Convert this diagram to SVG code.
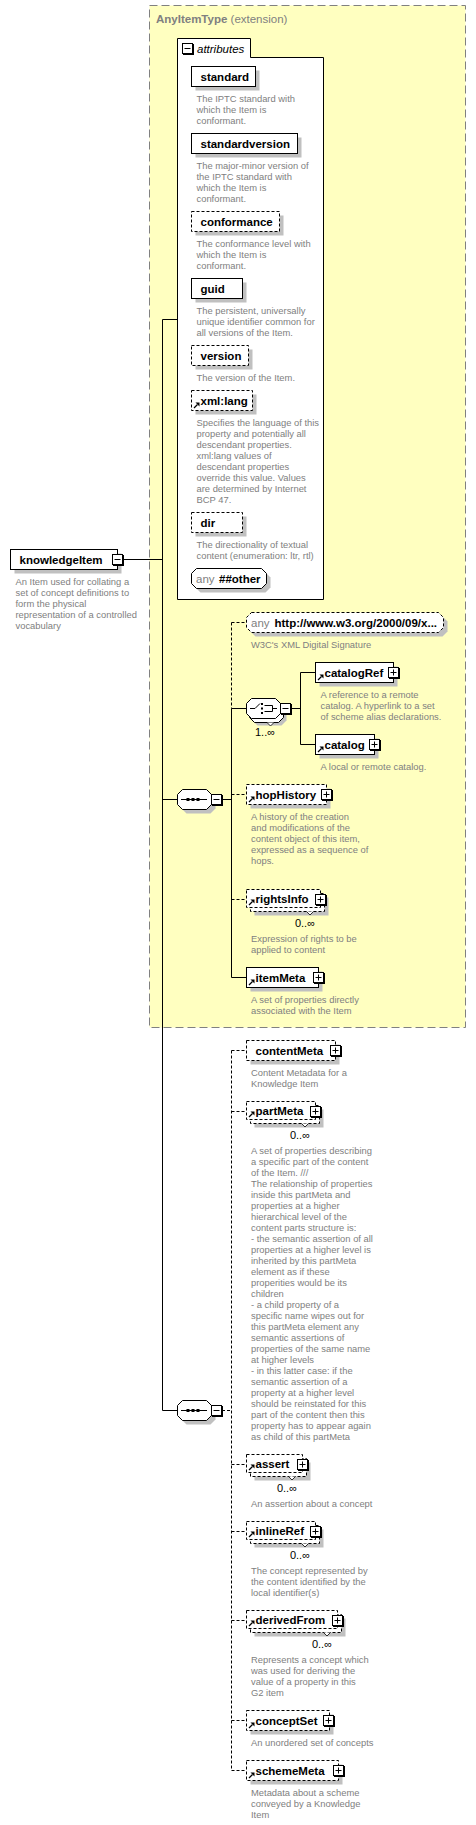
<svg xmlns="http://www.w3.org/2000/svg" xmlns:xlink="http://www.w3.org/1999/xlink" width="476" height="1825" viewBox="0 0 476 1825">
<style>
.n{fill:#fff;stroke:#000;stroke-width:1}
.nd{fill:#fff;stroke:#000;stroke-width:1;stroke-dasharray:3,2}
.sh{fill:#c0c0c0}
.t{font-family:"Liberation Sans",Arial,sans-serif;font-weight:bold;font-size:11.5px;fill:#000}
.d{font-family:"Liberation Sans",Arial,sans-serif;font-size:9.4px;fill:#808080}
.g{font-family:"Liberation Sans",Arial,sans-serif;font-size:11.5px;fill:#808080}
.m{font-family:"Liberation Sans",Arial,sans-serif;font-size:11px;fill:#000}
.c{fill:none;stroke:#000;stroke-width:1}
.cd{fill:none;stroke:#000;stroke-width:1;stroke-dasharray:3,2}
.v{fill:#fff;stroke:#000;stroke-width:0.8}
</style>
<defs>
<g id="plus"><rect x="0.5" y="0.5" width="11" height="11" fill="#000"/><rect x="0" y="0" width="10" height="10" fill="#fff" stroke="#000"/><path d="M2,5H8M5,2V8" stroke="#000" fill="none"/></g>
<g id="minus"><rect x="0.5" y="0.5" width="11" height="11" fill="#000"/><rect x="0" y="0" width="10" height="10" fill="#fff" stroke="#000"/><path d="M2,5H8" stroke="#000" fill="none"/></g>
<g id="ra"><path d="M0.5,-0.5L4,-4" stroke="#000" stroke-width="1.3" fill="none"/><path d="M2,-6H6V-2Z" fill="#000"/></g>
</defs>

<rect x="149.5" y="5.5" width="316" height="1022" fill="#FFFFC0" stroke="#808080" stroke-dasharray="8,4"/>
<text class="g" x="156" y="23"><tspan font-weight="bold">AnyItemType</tspan> (extension)</text>

<g id="connectors">
<path class="c" d="M122.5,559.5H162.5M162.5,319.5V1410.5M162.5,319.5H177.5M162.5,799.5H177.5M162.5,1410.5H177.5"/>
<path class="c" d="M222,799.5H231.5M231.5,708.5V977.5M231.5,708.5H246.5M231.5,977.5H246.5"/>
<path class="cd" d="M231.5,622.5V708.5M231.5,622.5H246.5M231.5,794.5H246.5M231.5,899.5H246.5"/>
<path class="c" d="M291,708.5H300.5M300.5,672.5V744.5M300.5,672.5H315.5M300.5,744.5H315.5"/>
<path class="cd" d="M222,1410.5H231.5M231.5,1050.5V1770.5M231.5,1050.5H246.5M231.5,1111.5H246.5M231.5,1464.5H246.5M231.5,1531.5H246.5M231.5,1620.5H246.5M231.5,1720.5H246.5M231.5,1770.5H246.5"/>
</g>

<g id="knowledgeItem">
<rect class="sh" x="14.5" y="553.5" width="107" height="20"/>
<rect class="n" x="10.5" y="549.5" width="107" height="20"/>
<text class="t" x="19.5" y="563.5">knowledgeItem</text>
<use href="#minus" x="112.5" y="554.5"/>
<text class="d"><tspan x="15.5" y="585">An Item used for collating a</tspan><tspan x="15.5" y="596">set of concept definitions to</tspan><tspan x="15.5" y="607">form the physical</tspan><tspan x="15.5" y="618">representation of a controlled</tspan><tspan x="15.5" y="629">vocabulary</tspan></text>
</g>

<g id="attributes">
<path class="n" d="M177.5,599.5V38.5H250.5V57.5H323.5V599.5Z"/>
<use href="#minus" x="182.5" y="43.5"/>
<text x="197" y="52.5" font-family="Liberation Sans, Arial, sans-serif" font-size="11.5" font-style="italic" fill="#000">attributes</text>
</g>

<g id="standard">
<rect class="sh" x="195.5" y="70.5" width="64" height="20"/>
<rect class="n" x="191.5" y="66.5" width="64" height="20"/>
<text class="t" x="200.5" y="80.5">standard</text>
<text class="d"><tspan x="196.5" y="102">The IPTC standard with</tspan><tspan x="196.5" y="113">which the Item is</tspan><tspan x="196.5" y="124">conformant.</tspan></text>
</g>

<g id="standardversion">
<rect class="sh" x="195.5" y="137.5" width="106" height="20"/>
<rect class="n" x="191.5" y="133.5" width="106" height="20"/>
<text class="t" x="200.5" y="147.5">standardversion</text>
<text class="d"><tspan x="196.5" y="169">The major-minor version of</tspan><tspan x="196.5" y="180">the IPTC standard with</tspan><tspan x="196.5" y="191">which the Item is</tspan><tspan x="196.5" y="202">conformant.</tspan></text>
</g>

<g id="conformance">
<rect class="sh" x="195.5" y="215.5" width="88" height="20"/>
<rect class="nd" x="191.5" y="211.5" width="88" height="20"/>
<text class="t" x="200.5" y="225.5">conformance</text>
<text class="d"><tspan x="196.5" y="247">The conformance level with</tspan><tspan x="196.5" y="258">which the Item is</tspan><tspan x="196.5" y="269">conformant.</tspan></text>
</g>

<g id="guid">
<rect class="sh" x="195.5" y="282.5" width="51" height="20"/>
<rect class="n" x="191.5" y="278.5" width="51" height="20"/>
<text class="t" x="200.5" y="292.5">guid</text>
<text class="d"><tspan x="196.5" y="314">The persistent, universally</tspan><tspan x="196.5" y="325">unique identifier common for</tspan><tspan x="196.5" y="336">all versions of the Item.</tspan></text>
</g>

<g id="version">
<rect class="sh" x="195.5" y="349.5" width="57" height="20"/>
<rect class="nd" x="191.5" y="345.5" width="57" height="20"/>
<text class="t" x="200.5" y="359.5">version</text>
<text class="d"><tspan x="196.5" y="381">The version of the Item.</tspan></text>
</g>

<g id="xml-lang">
<rect class="sh" x="195.5" y="394.5" width="61" height="20"/>
<rect class="nd" x="191.5" y="390.5" width="61" height="20"/>
<use href="#ra" x="193.5" y="408.5"/>
<text class="t" x="200.5" y="404.5">xml:lang</text>
<text class="d"><tspan x="196.5" y="426">Specifies the language of this</tspan><tspan x="196.5" y="437">property and potentially all</tspan><tspan x="196.5" y="448">descendant properties.</tspan><tspan x="196.5" y="459">xml:lang values of</tspan><tspan x="196.5" y="470">descendant properties</tspan><tspan x="196.5" y="481">override this value. Values</tspan><tspan x="196.5" y="492">are determined by Internet</tspan><tspan x="196.5" y="503">BCP 47.</tspan></text>
</g>

<g id="dir">
<rect class="sh" x="195.5" y="516.5" width="51" height="20"/>
<rect class="nd" x="191.5" y="512.5" width="51" height="20"/>
<text class="t" x="200.5" y="526.5">dir</text>
<text class="d"><tspan x="196.5" y="548">The directionality of textual</tspan><tspan x="196.5" y="559">content (enumeration: ltr, rtl)</tspan></text>
</g>

<g id="any-other">
<path class="sh" d="M200.5,572.5H265.5L270.5,577.5V587.5L265.5,592.5H200.5L195.5,587.5V577.5Z"/>
<path class="n" d="M196.5,568.5H261.5L266.5,573.5V583.5L261.5,588.5H196.5L191.5,583.5V573.5Z"/>
<text class="g" x="196" y="582.5">any</text>
<text class="t" x="219" y="582.5">##other</text>
</g>

<g id="any-xmldsig">
<path class="sh" d="M255.5,616.5H442.5L447.5,621.5V631.5L442.5,636.5H255.5L250.5,631.5V621.5Z"/>
<path class="nd" d="M251.5,612.5H438.5L443.5,617.5V627.5L438.5,632.5H251.5L246.5,627.5V617.5Z"/>
<text class="g" x="251" y="626.5">any</text>
<text class="t" x="274.5" y="626.5">http://www.w3.org/2000/09/x...</text>
<text class="d"><tspan x="251" y="648">W3C's XML Digital Signature</tspan></text>
</g>

<g id="choice">
<path class="sh" d="M257.5,705.5H281.5L286.5,710.5V720.5L281.5,725.5H257.5L252.5,720.5V710.5Z"/>
<path class="n" d="M254.5,702.5H278.5L283.5,707.5V717.5L278.5,722.5H254.5L249.5,717.5V707.5Z"/>
<path class="v" d="M267,722.5L270.5,726L274,722.5"/>
<path class="n" d="M251.5,698.5H275.5L280.5,703.5V713.5L275.5,718.5H251.5L246.5,713.5V703.5Z"/>
<path d="M250,708.5H255L260,703.5M264.5,705.5H272.5V711.5H264.5M272.5,708.5H277" fill="none" stroke="#000"/>
<rect x="261" y="703" width="2" height="2" fill="#000"/><rect x="261" y="707.5" width="2" height="2" fill="#000"/><rect x="261" y="712" width="2" height="2" fill="#000"/>
<use href="#minus" x="280.5" y="703.5"/>
<text class="m" x="255" y="736">1..∞</text>
</g>

<g id="catalogRef">
<rect class="sh" x="319.5" y="666.5" width="78" height="20"/>
<rect class="n" x="315.5" y="662.5" width="78" height="20"/>
<use href="#ra" x="317.5" y="680.5"/>
<text class="t" x="324.5" y="676.5">catalogRef</text>
<use href="#plus" x="388.5" y="667.5"/>
<text class="d"><tspan x="320.5" y="698">A reference to a remote</tspan><tspan x="320.5" y="709">catalog. A hyperlink to a set</tspan><tspan x="320.5" y="720">of scheme alias declarations.</tspan></text>
</g>

<g id="catalog">
<rect class="sh" x="319.5" y="738.5" width="59" height="20"/>
<rect class="n" x="315.5" y="734.5" width="59" height="20"/>
<use href="#ra" x="317.5" y="752.5"/>
<text class="t" x="324.5" y="748.5">catalog</text>
<use href="#plus" x="369.5" y="739.5"/>
<text class="d"><tspan x="320.5" y="770">A local or remote catalog.</tspan></text>
</g>

<g id="sequence1">
<path class="sh" d="M186.5,793.5H210.5L215.5,798.5V808.5L210.5,813.5H186.5L181.5,808.5V798.5Z"/>
<path class="n" d="M182.5,789.5H206.5L211.5,794.5V804.5L206.5,809.5H182.5L177.5,804.5V794.5Z"/>
<path d="M181,799.5H207" stroke="#000" fill="none"/>
<rect x="186.5" y="798" width="3" height="3" fill="#000"/><rect x="191.5" y="798" width="3" height="3" fill="#000"/><rect x="196.5" y="798" width="3" height="3" fill="#000"/>
<use href="#minus" x="211.5" y="794.5"/>
</g>

<g id="hopHistory">
<rect class="sh" x="250.5" y="788.5" width="80" height="20"/>
<rect class="nd" x="246.5" y="784.5" width="80" height="20"/>
<use href="#ra" x="248.5" y="802.5"/>
<text class="t" x="255.5" y="798.5">hopHistory</text>
<use href="#plus" x="321.5" y="789.5"/>
<text class="d"><tspan x="251" y="820"> A history of the creation</tspan><tspan x="251" y="831">and modifications of the</tspan><tspan x="251" y="842">content object of this item,</tspan><tspan x="251" y="853">expressed as a sequence of</tspan><tspan x="251" y="864">hops.</tspan></text>
</g>

<g id="rightsInfo">
<rect class="sh" x="254.5" y="897.5" width="74" height="18"/>
<rect class="nd" x="250.5" y="893.5" width="74" height="18"/>
<rect class="nd" x="246.5" y="889.5" width="74" height="18"/>
<path class="v" d="M306.5,911.5L310,915L313.5,911.5"/>
<use href="#ra" x="248.5" y="905.5"/>
<text class="t" x="255.5" y="903">rightsInfo</text>
<use href="#plus" x="315.5" y="894.5"/>
<text class="m" x="315" y="927" text-anchor="end">0..∞</text>
<text class="d"><tspan x="251" y="942">Expression of rights to be</tspan><tspan x="251" y="953">applied to content</tspan></text>
</g>

<g id="itemMeta">
<rect class="sh" x="250.5" y="971.5" width="72" height="20"/>
<rect class="n" x="246.5" y="967.5" width="72" height="20"/>
<use href="#ra" x="248.5" y="985.5"/>
<text class="t" x="255.5" y="981.5">itemMeta</text>
<use href="#plus" x="313.5" y="972.5"/>
<text class="d"><tspan x="251" y="1003">A set of properties directly</tspan><tspan x="251" y="1014">associated with the Item</tspan></text>
</g>

<g id="sequence2">
<path class="sh" d="M186.5,1404.5H210.5L215.5,1409.5V1419.5L210.5,1424.5H186.5L181.5,1419.5V1409.5Z"/>
<path class="n" d="M182.5,1400.5H206.5L211.5,1405.5V1415.5L206.5,1420.5H182.5L177.5,1415.5V1405.5Z"/>
<path d="M181,1410.5H207" stroke="#000" fill="none"/>
<rect x="186.5" y="1409" width="3" height="3" fill="#000"/><rect x="191.5" y="1409" width="3" height="3" fill="#000"/><rect x="196.5" y="1409" width="3" height="3" fill="#000"/>
<use href="#minus" x="211.5" y="1405.5"/>
</g>

<g id="contentMeta">
<rect class="sh" x="250.5" y="1044.5" width="89" height="20"/>
<rect class="nd" x="246.5" y="1040.5" width="89" height="20"/>
<text class="t" x="255.5" y="1054.5">contentMeta</text>
<use href="#plus" x="330.5" y="1045.5"/>
<text class="d"><tspan x="251" y="1076">Content Metadata for a</tspan><tspan x="251" y="1087">Knowledge Item</tspan></text>
</g>

<g id="partMeta">
<rect class="sh" x="254.5" y="1109.5" width="69" height="18"/>
<rect class="nd" x="250.5" y="1105.5" width="69" height="18"/>
<rect class="nd" x="246.5" y="1101.5" width="69" height="18"/>
<path class="v" d="M301.5,1123.5L305,1127L308.5,1123.5"/>
<use href="#ra" x="248.5" y="1117.5"/>
<text class="t" x="255.5" y="1115">partMeta</text>
<use href="#plus" x="310.5" y="1106.5"/>
<text class="m" x="310" y="1139" text-anchor="end">0..∞</text>
<text class="d"><tspan x="251" y="1154">A set of properties describing</tspan><tspan x="251" y="1165">a specific part of the content</tspan><tspan x="251" y="1176">of the Item. ///</tspan><tspan x="251" y="1187">The relationship of properties</tspan><tspan x="251" y="1198">inside this partMeta and</tspan><tspan x="251" y="1209">properties at a higher</tspan><tspan x="251" y="1220">hierarchical level of the</tspan><tspan x="251" y="1231">content parts structure is:</tspan><tspan x="251" y="1242">- the semantic assertion of all</tspan><tspan x="251" y="1253">properties at a higher level is</tspan><tspan x="251" y="1264">inherited by this partMeta</tspan><tspan x="251" y="1275">element as if these</tspan><tspan x="251" y="1286">properities would be its</tspan><tspan x="251" y="1297">children</tspan><tspan x="251" y="1308">- a child property of a</tspan><tspan x="251" y="1319">specific name wipes out for</tspan><tspan x="251" y="1330">this partMeta element any</tspan><tspan x="251" y="1341">semantic assertions of</tspan><tspan x="251" y="1352">properties of the same name</tspan><tspan x="251" y="1363">at higher levels</tspan><tspan x="251" y="1374">- in this latter case: if the</tspan><tspan x="251" y="1385">semantic assertion of a</tspan><tspan x="251" y="1396">property at a higher level</tspan><tspan x="251" y="1407">should be reinstated for this</tspan><tspan x="251" y="1418">part of the content then this</tspan><tspan x="251" y="1429">property has to appear again</tspan><tspan x="251" y="1440">as child of this partMeta</tspan></text>
</g>

<g id="assert">
<rect class="sh" x="254.5" y="1462.5" width="56" height="18"/>
<rect class="nd" x="250.5" y="1458.5" width="56" height="18"/>
<rect class="nd" x="246.5" y="1454.5" width="56" height="18"/>
<path class="v" d="M288.5,1476.5L292,1480L295.5,1476.5"/>
<use href="#ra" x="248.5" y="1470.5"/>
<text class="t" x="255.5" y="1468">assert</text>
<use href="#plus" x="297.5" y="1459.5"/>
<text class="m" x="297" y="1492" text-anchor="end">0..∞</text>
<text class="d"><tspan x="251" y="1507">An assertion about a concept</tspan></text>
</g>

<g id="inlineRef">
<rect class="sh" x="254.5" y="1529.5" width="69" height="18"/>
<rect class="nd" x="250.5" y="1525.5" width="69" height="18"/>
<rect class="nd" x="246.5" y="1521.5" width="69" height="18"/>
<path class="v" d="M301.5,1543.5L305,1547L308.5,1543.5"/>
<use href="#ra" x="248.5" y="1537.5"/>
<text class="t" x="255.5" y="1535">inlineRef</text>
<use href="#plus" x="310.5" y="1526.5"/>
<text class="m" x="310" y="1559" text-anchor="end">0..∞</text>
<text class="d"><tspan x="251" y="1574">The concept represented by</tspan><tspan x="251" y="1585">the content identified by the</tspan><tspan x="251" y="1596">local identifier(s)</tspan></text>
</g>

<g id="derivedFrom">
<rect class="sh" x="254.5" y="1618.5" width="91" height="18"/>
<rect class="nd" x="250.5" y="1614.5" width="91" height="18"/>
<rect class="nd" x="246.5" y="1610.5" width="91" height="18"/>
<path class="v" d="M323.5,1632.5L327,1636L330.5,1632.5"/>
<use href="#ra" x="248.5" y="1626.5"/>
<text class="t" x="255.5" y="1624">derivedFrom</text>
<use href="#plus" x="332.5" y="1615.5"/>
<text class="m" x="332" y="1648" text-anchor="end">0..∞</text>
<text class="d"><tspan x="251" y="1663">Represents a concept which</tspan><tspan x="251" y="1674">was used for deriving the</tspan><tspan x="251" y="1685">value of a property in this</tspan><tspan x="251" y="1696">G2 item</tspan></text>
</g>

<g id="conceptSet">
<rect class="sh" x="250.5" y="1714.5" width="83" height="20"/>
<rect class="nd" x="246.5" y="1710.5" width="83" height="20"/>
<use href="#ra" x="248.5" y="1728.5"/>
<text class="t" x="255.5" y="1724.5">conceptSet</text>
<use href="#plus" x="323.5" y="1715.5"/>
<text class="d"><tspan x="251" y="1746">An unordered set of concepts</tspan></text>
</g>

<g id="schemeMeta">
<rect class="sh" x="250.5" y="1764.5" width="92" height="20"/>
<rect class="nd" x="246.5" y="1760.5" width="92" height="20"/>
<use href="#ra" x="248.5" y="1778.5"/>
<text class="t" x="255.5" y="1774.5">schemeMeta</text>
<use href="#plus" x="333.5" y="1765.5"/>
<text class="d"><tspan x="251" y="1796">Metadata about a scheme</tspan><tspan x="251" y="1807">conveyed by a Knowledge</tspan><tspan x="251" y="1818">Item</tspan></text>
</g>
</svg>
